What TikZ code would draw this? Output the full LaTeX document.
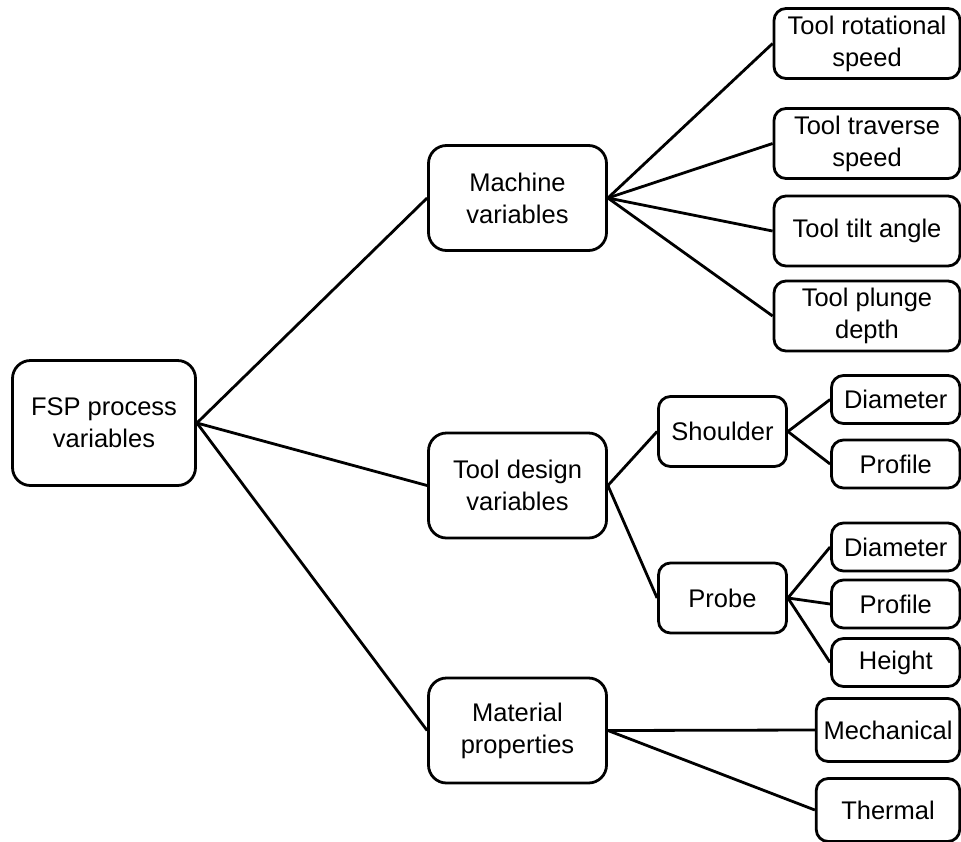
\documentclass[tikz,border=0pt]{standalone}
\usepackage{fontspec}
\setmainfont{Liberation Sans}

\begin{document}
\begin{tikzpicture}[x=1pt,y=-1pt,line width=2.8pt,
  box/.style={draw,rounded corners=12pt,align=center,inner sep=2pt,
    font=\fontsize{25.5}{32}\selectfont},
  bigbox/.style={box,rounded corners=18pt,minimum width=178pt,minimum height=105pt},
  leafbox/.style={box,minimum width=186pt,minimum height=70pt},
  subbox/.style={box,minimum width=128pt,minimum height=70pt},
  tipbox/.style={box,minimum width=128.5pt,minimum height=48pt},
  propbox/.style={box,minimum width=143.5pt,minimum height=63pt}]
  \useasboundingbox (0,0) rectangle (961,841);
  % levels from left to right
  \node[box,rounded corners=18pt,minimum width=183pt,minimum height=125pt]
    (root) at (104,423) {FSP process\\variables};
  \node[bigbox] (mach) at (517.5,198) {Machine\\variables};
  \node[bigbox] (tdes) at (517.5,485.5) {Tool design\\variables};
  \node[bigbox] (matl) at (517.5,730.5) {Material\\properties};
  \node[leafbox] (rot) at (867,43.5) {Tool rotational\\speed};
  \node[leafbox] (trav) at (867,143.5) {Tool traverse\\speed};
  \node[leafbox] (tilt) at (867,231) {Tool tilt angle};
  \node[leafbox] (plng) at (867,316) {Tool plunge\\depth};
  \node[subbox] (shld) at (722.5,431.5) {Shoulder};
  \node[subbox] (prob) at (722.5,598) {Probe};
  \node[tipbox] (sdia) at (895.75,399.5) {Diameter};
  \node[tipbox] (sprf) at (895.75,464) {Profile};
  \node[tipbox] (pdia) at (895.75,547) {Diameter};
  \node[tipbox] (pprf) at (895.75,604) {Profile};
  \node[tipbox] (phgt) at (895.75,662.5) {Height};
  \node[propbox] (mech) at (888,730) {Mechanical};
  \node[propbox] (thrm) at (888,810) {Thermal};
  % connectors
  \foreach \a/\b in {root/mach,root/tdes,root/matl,mach/rot,mach/trav,mach/tilt,
    mach/plng,tdes/shld,tdes/prob,shld/sdia,shld/sprf,prob/pdia,prob/pprf,
    prob/phgt,matl/mech,matl/thrm}
    \draw (\a.east) -- (\b.west);
\end{tikzpicture}
\end{document}
